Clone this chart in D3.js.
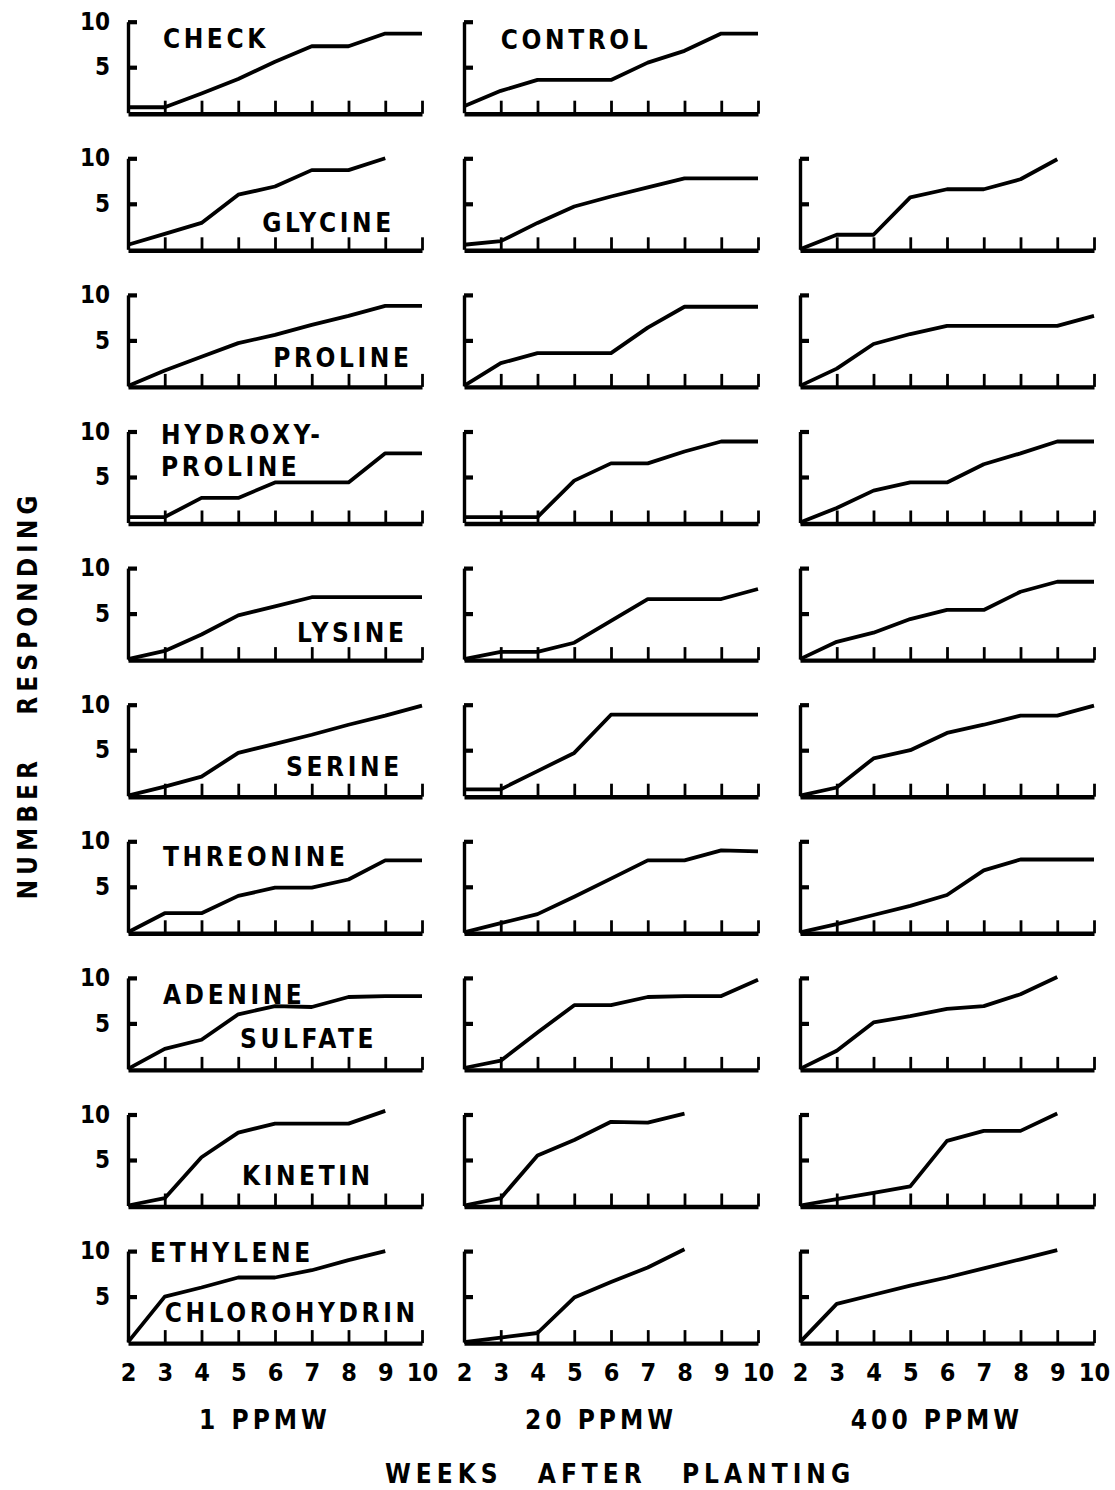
<!DOCTYPE html>
<html lang="en">
<head>
<meta charset="utf-8">
<script src="https://cdn.jsdelivr.net/npm/d3@7"></script>
<style>
  body { margin: 0; background: #fff; }
  text { font-family: "DejaVu Sans Condensed", "DejaVu Sans", sans-serif; font-weight: bold; fill: #000; }
</style>
</head>
<body>
<script>
// weeks after planting, one value per week (null = no point)
var weeks = [2, 3, 4, 5, 6, 7, 8, 9, 10];
var yTicks = [5, 10];
var concentrations = ["1 PPMW", "20 PPMW", "400 PPMW"];

var check   = [0.6, 0.6, 2.1, 3.7, 5.6, 7.3, 7.3, 8.7, 8.7];
var control = [0.7, 2.4, 3.6, 3.6, 3.6, 5.5, 6.8, 8.7, 8.7];

// each treatment: [1 ppmw, 20 ppmw, 400 ppmw]
var glycine = [
  [0.5, 1.7, 2.9, 6.0, 6.9, 8.7, 8.7, 10.0, null],
  [0.5, 0.9, 2.9, 4.7, 5.8, 6.8, 7.8, 7.8, 7.8],
  [0, 1.6, 1.6, 5.7, 6.6, 6.6, 7.7, 9.9, null]];
var proline = [
  [0, 1.7, 3.2, 4.7, 5.6, 6.7, 7.7, 8.8, 8.8],
  [0, 2.5, 3.6, 3.6, 3.6, 6.4, 8.7, 8.7, 8.7],
  [0, 1.9, 4.6, 5.7, 6.6, 6.6, 6.6, 6.6, 7.7]];
var hydroxyproline = [
  [0.6, 0.6, 2.7, 2.7, 4.4, 4.4, 4.4, 7.6, 7.6],
  [0.6, 0.6, 0.6, 4.6, 6.5, 6.5, 7.8, 8.9, 8.9],
  [0, 1.6, 3.5, 4.4, 4.4, 6.4, 7.6, 8.9, 8.9]];
var lysine = [
  [0, 0.9, 2.7, 4.8, 5.8, 6.8, 6.8, 6.8, 6.8],
  [0, 0.8, 0.8, 1.8, 4.2, 6.6, 6.6, 6.6, 7.7],
  [0, 1.9, 2.9, 4.4, 5.4, 5.4, 7.4, 8.5, 8.5]];
var serine = [
  [0, 1.0, 2.1, 4.7, 5.7, 6.7, 7.8, 8.8, 9.9],
  [0.7, 0.7, 2.7, 4.7, 8.9, 8.9, 8.9, 8.9, 8.9],
  [0, 0.9, 4.1, 5.0, 6.9, 7.8, 8.8, 8.8, 9.9]];
var threonine = [
  [0, 2.1, 2.1, 4.0, 4.9, 4.9, 5.8, 7.9, 7.9],
  [0, 1.0, 2.0, 3.9, 5.9, 7.9, 7.9, 9.0, 8.9],
  [0, 0.9, 1.9, 2.9, 4.1, 6.8, 8.0, 8.0, 8.0]];
var adenineSulfate = [
  [0, 2.2, 3.2, 6.0, 6.9, 6.8, 7.9, 8.0, 8.0],
  [0.1, 0.9, 4.0, 7.0, 7.0, 7.9, 8.0, 8.0, 9.8],
  [0, 2.0, 5.1, 5.8, 6.6, 6.9, 8.2, 10.1, null]];
var kinetin = [
  [0, 0.8, 5.3, 8.0, 9.0, 9.0, 9.0, 10.4, null],
  [0, 0.8, 5.5, 7.2, 9.2, 9.1, 10.1, null, null],
  [0, 0.7, 1.4, 2.1, 7.1, 8.2, 8.2, 10.1, null]];
var ethyleneChlorohydrin = [
  [0, 5.0, 6.0, 7.1, 7.1, 7.9, 9.0, 10.0, null],
  [0, 0.5, 1.0, 4.9, 6.6, 8.2, 10.2, null, null],
  [0, 4.2, 5.2, 6.2, 7.1, 8.1, 9.1, 10.1, null]];

var rows = [
  [check, control],
  glycine, proline, hydroxyproline, lysine, serine,
  threonine, adenineSulfate, kinetin, ethyleneChlorohydrin];

// panel labels: row, column, anchor point in data units
var labels = [
  {row: 0, col: 0, week: 2.95, val: 7.1, text: "CHECK"},
  {row: 0, col: 1, week: 3.0, val: 7.0, text: "CONTROL"},
  {row: 1, col: 0, week: 5.65, val: 1.9, text: "GLYCINE"},
  {row: 2, col: 0, week: 5.95, val: 2.1, text: "PROLINE"},
  {row: 3, col: 0, week: 2.9, val: 8.6, text: "HYDROXY-"},
  {row: 3, col: 0, week: 2.9, val: 5.1, text: "PROLINE"},
  {row: 4, col: 0, week: 6.6, val: 1.9, text: "LYSINE"},
  {row: 5, col: 0, week: 6.3, val: 2.2, text: "SERINE"},
  {row: 6, col: 0, week: 2.95, val: 7.3, text: "THREONINE"},
  {row: 7, col: 0, week: 2.95, val: 7.1, text: "ADENINE"},
  {row: 7, col: 0, week: 5.05, val: 2.3, text: "SULFATE"},
  {row: 8, col: 0, week: 5.1, val: 2.3, text: "KINETIN"},
  {row: 9, col: 0, week: 2.6, val: 8.8, text: "ETHYLENE"},
  {row: 9, col: 0, week: 3.0, val: 2.2, text: "CHLOROHYDRIN"}];

var width = 1115, height = 1490;
var svg = d3.select("body").append("svg")
  .attr("width", width)
  .attr("height", height);
svg.append("rect").attr("width", width).attr("height", height).attr("fill", "#fff");

var colLeft = 128, colStep = 336, colWidth = 294;
var rowBase = 112.7, rowStep = 136.6, panelHeight = 91;

function xScale(c) {
  return d3.scaleLinear().domain([2, 10]).range([colLeft + c * colStep, colLeft + c * colStep + colWidth]);
}
function yScale(r) {
  var y0 = rowBase + r * rowStep;
  return d3.scaleLinear().domain([0, 10]).range([y0, y0 - panelHeight]);
}

rows.forEach(function (series, r) {
  var y = yScale(r);
  series.forEach(function (vals, c) {
    var x = xScale(c);
    var g = svg.append("g");

    // x axis: baseline with upward ticks
    var xa = g.append("g")
      .attr("transform", "translate(0," + (y(0) + 1) + ")")
      .call(d3.axisBottom(x).tickValues(weeks.slice(1)).tickSizeInner(-13).tickSizeOuter(0).tickFormat(""));
    xa.select(".domain").attr("stroke", "#000").attr("stroke-width", 4.4);
    xa.selectAll(".tick line").attr("stroke", "#000").attr("stroke-width", 2.8);

    // y axis: vertical line with short ticks to the right
    var ya = g.append("g")
      .attr("transform", "translate(" + x(2) + ",0)")
      .call(d3.axisRight(y).tickValues(yTicks).tickSizeInner(9).tickSizeOuter(0).tickFormat(""));
    ya.select(".domain").attr("stroke", "#000").attr("stroke-width", 3.4);
    ya.selectAll(".tick line").attr("stroke", "#000").attr("stroke-width", 4.2);

    if (c === 0) {
      var yl = g.append("g")
        .attr("transform", "translate(" + x(2) + ",0)")
        .call(d3.axisLeft(y).tickValues(yTicks).tickSize(0).tickPadding(18));
      yl.select(".domain").remove();
      yl.selectAll("text").attr("font-size", 24).style("font-family", null);
    }

    if (r === rows.length - 1) {
      var xl = g.append("g")
        .attr("transform", "translate(0," + (y(0) + 1) + ")")
        .call(d3.axisBottom(x).tickValues(weeks).tickSize(0).tickPadding(20).tickFormat(d3.format("d")));
      xl.select(".domain").remove();
      xl.selectAll("text").attr("font-size", 25).style("font-family", null);
    }

    var line = d3.line()
      .defined(function (d) { return d != null; })
      .x(function (d, i) { return x(weeks[i]); })
      .y(function (d) { return y(d); });

    g.append("path")
      .datum(vals)
      .attr("d", line)
      .attr("fill", "none")
      .attr("stroke", "#000")
      .attr("stroke-width", 3.8)
      .attr("stroke-linejoin", "round");
  });
});

labels.forEach(function (l) {
  var x = xScale(l.col), y = yScale(l.row);
  svg.append("text")
    .attr("x", x(l.week))
    .attr("y", y(l.val))
    .attr("font-size", 26)
    .attr("letter-spacing", 3.6)
    .text(l.text);
});

// column titles
concentrations.forEach(function (t, c) {
  var x = xScale(c);
  svg.append("text")
    .attr("x", (x(2) + x(10)) / 2 - 10)
    .attr("y", 1429)
    .attr("text-anchor", "middle")
    .attr("font-size", 26)
    .attr("letter-spacing", 4)
    .text(t);
});

svg.append("text")
  .attr("x", 620)
  .attr("y", 1483)
  .attr("text-anchor", "middle")
  .attr("font-size", 26)
  .attr("letter-spacing", 5)
  .attr("word-spacing", 22)
  .text("WEEKS AFTER PLANTING");

svg.append("text")
  .attr("transform", "translate(37,695) rotate(-90)")
  .attr("text-anchor", "middle")
  .attr("font-size", 26)
  .attr("letter-spacing", 5)
  .attr("word-spacing", 28)
  .text("NUMBER RESPONDING");
</script>
</body>
</html>
